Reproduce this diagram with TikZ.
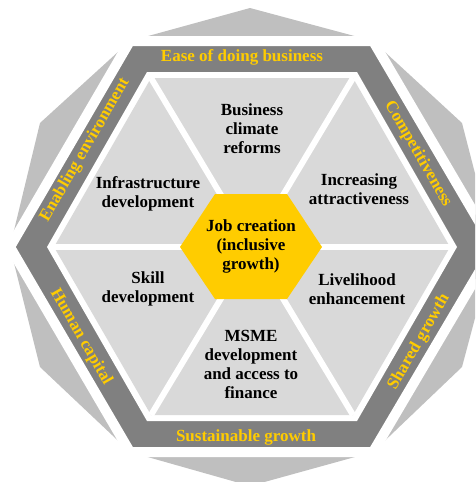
\documentclass[tikz,border=0pt]{standalone}
\usepackage{fontspec}
\setmainfont{Liberation Serif}
\definecolor{bandgray}{HTML}{808080}
\definecolor{bggray}{HTML}{BFBFBF}
\definecolor{cellgray}{HTML}{D9D9D9}
\definecolor{eyyellow}{HTML}{FFCC00}
\begin{document}
\begin{tikzpicture}[x=1pt,y=1pt,
  bandlabel/.style={text=eyyellow,font=\bfseries\fontsize{17}{19}\selectfont,inner sep=0pt},
  celllabel/.style={text=black,font=\bfseries\fontsize{17}{19}\selectfont,align=center,inner sep=0pt},
  divider/.style={white,line width=6pt},
  bgshape/.style={fill=bggray},
  bandshape/.style={fill=bandgray,draw=white,line width=10pt,line join=miter},
  hubshape/.style={fill=eyyellow}]
\useasboundingbox (0,0) rectangle (475,-482);
\clip (0,0) rectangle (475,-482);
% background dodecagon
\fill[bgshape] (10,-247) -- (40,-123) -- (130,-41) -- (250,-8) -- (373,-41) -- (462,-123) -- (494,-247)
  -- (462,-367) -- (373,-452) -- (250,-486) -- (130,-452) -- (40,-367) -- cycle;
% dark band hexagon
\filldraw[bandshape] (10,-247) -- (130,-41) -- (373,-41) -- (494,-247) -- (373,-452) -- (130,-452) -- cycle;
% white gap
\fill[white] (47,-247) -- (147,-72) -- (357,-72) -- (457,-247) -- (357,-421) -- (147,-421) -- cycle;
% light cells
\coordinate (c) at (252,-247);
\coordinate (v1) at (54,-247);
\coordinate (v2) at (151,-78);
\coordinate (v3) at (353,-78);
\coordinate (v4) at (450,-247);
\coordinate (v5) at (353,-415);
\coordinate (v6) at (151,-415);
\fill[cellgray] (v1) -- (v2) -- (v3) -- (v4) -- (v5) -- (v6) -- cycle;
\foreach \v in {v1,v2,v3,v4,v5,v6} \draw[divider] (c) -- (\v);
% hub
\fill[hubshape] (180,-247) -- (215,-194) -- (287,-194) -- (322,-247) -- (287,-299) -- (215,-299) -- cycle;
\node[celllabel] (hub) at (251,-246) {Job creation\\(inclusive\\growth)};
% cell labels
\node[celllabel] (bcr) at (252,-129) {Business\\climate\\reforms};
\node[celllabel] (infra) at (148,-194) {Infrastructure\\development};
\node[celllabel] (incr) at (359,-189) {Increasing\\attractiveness};
\node[celllabel] (skill) at (148,-289) {Skill\\development};
\node[celllabel] (live) at (357,-289) {Livelihood\\enhancement};
\node[celllabel] (msme) at (251,-364) {MSME\\development\\and access to\\finance};
% band labels
\node[bandlabel] (ease) at (242,-57) {Ease of doing business};
\node[bandlabel] (sust) at (246,-437) {Sustainable growth};
\node[bandlabel,rotate=60] (enab) at (85,-150) {Enabling environment};
\node[bandlabel,rotate=-60] (comp) at (418,-154) {Competitiveness};
\node[bandlabel,rotate=-60] (human) at (81,-337) {Human capital};
\node[bandlabel,rotate=60] (shared) at (419,-342) {Shared growth};
\end{tikzpicture}
\end{document}
